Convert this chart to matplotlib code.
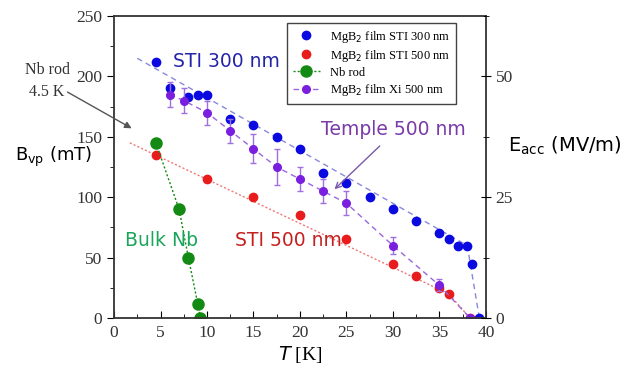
import matplotlib.pyplot as plt
import numpy as np
from matplotlib.ticker import MultipleLocator

# MgB2 film STI 300 nm
sti300_T = [4.5, 6, 8, 9, 10, 12.5, 15, 17.5, 20, 22.5, 25, 27.5, 30, 32.5, 35, 36, 37, 38, 38.5, 39.3]
sti300_B = [212, 190, 183, 185, 185, 165, 160, 150, 140, 120, 112, 100, 90, 80, 70, 65, 60, 60, 45, 0]
sti300_fit_T = [2.5, 38, 39.3]
sti300_fit_B = [215, 60, 0]

# MgB2 film STI 500 nm
sti500_T = [4.5, 10, 15, 20, 25, 30, 32.5, 35, 36, 38.3]
sti500_B = [135, 115, 100, 85, 65, 45, 35, 25, 20, 0]
sti500_fit_T = [1.7, 36, 38.3]
sti500_fit_B = [145, 20, 0]

# Nb rod
nb_T = [4.5, 7, 8, 9, 9.3]
nb_B = [145, 90, 50, 12, 0]

# MgB2 film Xi 500 nm (Temple)
xi_T = [6, 7.5, 10, 12.5, 15, 17.5, 20, 22.5, 25, 30, 35, 38.3]
xi_B = [185, 180, 170, 155, 140, 125, 115, 105, 95, 60, 27, 0]
xi_err = [10, 10, 10, 10, 12, 15, 10, 10, 10, 7, 5, 0]

serif = "Liberation Serif"

fig = plt.figure(figsize=(6.31, 3.78), dpi=100)
ax = fig.add_axes([0.1807, 0.1587, 0.5893, 0.799])

ax.plot(sti300_fit_T, sti300_fit_B, ls=(0, (4, 3)), color="#8888dd", lw=1)
ax.plot(sti500_fit_T, sti500_fit_B, ls=(0, (1.5, 1.5)), color="#ee7777", lw=1)
ax.plot(sti300_T, sti300_B, "o", color="#0a0ae0", ms=6, label="MgB$_2$ film STI 300 nm")
ax.plot(sti500_T, sti500_B, "o", color="#e81c1c", ms=6, label="MgB$_2$ film STI 500 nm")
ax.plot(nb_T, nb_B, "o", ls=(0, (1.5, 1.5)), color="#138a13", ms=8, lw=1,
        label="Nb rod")
ax.errorbar(xi_T, xi_B, yerr=xi_err, fmt="none", ecolor="#a070e0",
            elinewidth=1, capsize=2.5)
ax.plot(xi_T, xi_B, "o", ls=(0, (4, 3)), color="#9a66e0",
        mfc="#7a1ee0", mec="#7a1ee0", ms=5.5, lw=1, label="MgB$_2$ film Xi 500 nm")

ax.set_xlim(0, 40)
ax.set_ylim(0, 250)
ax.xaxis.set_major_locator(MultipleLocator(5))
ax.xaxis.set_minor_locator(MultipleLocator(2.5))
ax.yaxis.set_major_locator(MultipleLocator(50))
ax.yaxis.set_minor_locator(MultipleLocator(25))
ax.tick_params(axis="x", which="both", direction="in", top=False, labelsize=12.5, pad=5)
ax.tick_params(axis="x", which="major", length=5)
ax.tick_params(axis="x", which="minor", length=3)
ax.tick_params(axis="y", which="both", direction="out", right=False, labelsize=12.5)
ax.tick_params(axis="y", which="major", length=5)
ax.tick_params(axis="y", which="minor", length=3)
for lab in ax.get_xticklabels() + ax.get_yticklabels():
    lab.set_family(serif)
    lab.set_color("#333333")
for sp in ax.spines.values():
    sp.set_linewidth(1.3)
    sp.set_color("#333333")

ax2 = ax.twinx()
ax2.set_ylim(0, 62.5)
ax2.yaxis.set_major_locator(MultipleLocator(25))
ax2.yaxis.set_minor_locator(MultipleLocator(12.5))
ax2.tick_params(axis="y", which="both", direction="inout", labelsize=12.5)
ax2.tick_params(axis="y", which="major", length=7)
ax2.tick_params(axis="y", which="minor", length=5)
for lab in ax2.get_yticklabels():
    lab.set_family(serif)
    lab.set_color("#333333")
for sp in ax2.spines.values():
    sp.set_visible(False)

ax.set_xlabel("$T$ [K]", fontsize=14, family=serif, labelpad=2)
fig.text(0.085, 0.585, "B$_\\mathregular{vp}$ (mT)", fontsize=13, ha="center", va="center")
fig.text(0.895, 0.615, "E$_\\mathregular{acc}$ (MV/m)", fontsize=14, ha="center", va="center")

ax.text(6.3, 212, "STI 300 nm", color="#2424a8", fontsize=13.5, va="center")
ax.text(22.3, 156, "Temple 500 nm", color="#7a3aa8", fontsize=13.5, va="center")
ax.text(13.0, 64, "STI 500 nm", color="#c42020", fontsize=13.5, va="center")
ax.text(1.2, 64, "Bulk Nb", color="#1aa55a", fontsize=13.5, va="center")
ax.annotate("", xy=(23.5, 105), xytext=(28.8, 144),
            arrowprops=dict(arrowstyle="->", color="#7a5aa8", lw=1))
ax.text(-7.2, 196, "Nb rod\n4.5 K", fontsize=11.5, family=serif, color="#333333",
        ha="center", va="center", linespacing=1.5, clip_on=False)
ax.annotate("", xy=(1.9, 157), xytext=(-5.0, 187), annotation_clip=False,
            arrowprops=dict(arrowstyle="-|>", color="#555555", lw=1,
                            shrinkA=0, shrinkB=0))

leg = ax.legend(loc="upper left", bbox_to_anchor=(0.465, 0.977), borderaxespad=0,
                prop={"family": serif, "size": 9}, fancybox=False, edgecolor="#444444",
                handlelength=2.2, borderpad=0.45, labelspacing=0.25, framealpha=1)
leg.get_frame().set_linewidth(1)

fig.savefig("out.png", dpi=100)
